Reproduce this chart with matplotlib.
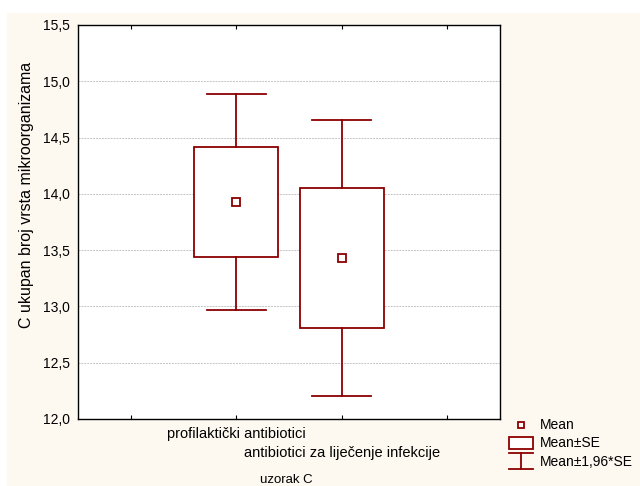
import matplotlib.pyplot as plt
from matplotlib.patches import Rectangle

# mean, standard error per group
groups = ['profilaktički antibiotici', 'antibiotici za liječenje infekcije']
means = [13.93, 13.43]
se = [0.49, 0.625]
positions = [1, 2]

y_ticks = [12.0, 12.5, 13.0, 13.5, 14.0, 14.5, 15.0, 15.5]

RED = '#8b0000'
CREAM = '#fdf9f0'

plt.rcParams['font.family'] = ['Liberation Sans', 'DejaVu Sans']
plt.rcParams['font.size'] = 10

W, H = 640, 486
fig = plt.figure(figsize=(W / 100, H / 100), dpi=100, facecolor='white')
fig.add_artist(Rectangle((7 / W, 0), 1 - 7 / W, 1 - 13 / H, transform=fig.transFigure,
                         facecolor=CREAM, edgecolor='none', zorder=-10))

ax = fig.add_axes([78 / W, 1 - 419 / H, 422 / W, 394 / H])
ax.set_facecolor('white')

box_w = 0.8
cap_w = 0.56
for x, m, s in zip(positions, means, se):
    lo, hi = m - s, m + s
    wlo, whi = m - 1.96 * s, m + 1.96 * s
    ax.add_patch(Rectangle((x - box_w / 2, lo), box_w, hi - lo, facecolor='white',
                           edgecolor=RED, lw=1.3, zorder=3))
    ax.plot([x, x], [hi, whi], color=RED, lw=1.3, zorder=3)
    ax.plot([x, x], [wlo, lo], color=RED, lw=1.3, zorder=3)
    ax.plot([x - cap_w / 2, x + cap_w / 2], [whi, whi], color=RED, lw=1.3, zorder=3)
    ax.plot([x - cap_w / 2, x + cap_w / 2], [wlo, wlo], color=RED, lw=1.3, zorder=3)
    ax.plot(x, m, marker='s', ms=5.5, mfc='white', mec=RED, mew=1.3, zorder=4)

ax.set_xlim(-0.5, 3.5)
ax.set_ylim(12.0, 15.5)
ax.set_xticks([0, 1, 2, 3])
ax.set_xticklabels([])
ax.set_yticks(y_ticks)
ax.set_yticklabels([f'{v:.1f}'.replace('.', ',') for v in y_ticks])
ax.tick_params(direction='in', length=3, width=0.8, top=True, colors='black')
ax.tick_params(axis='y', length=0, pad=6, labelsize=10)
ax.grid(axis='y', color='#c4c4c4', linestyle=(0, (2, 1)), lw=0.7, zorder=0)
for sp in ax.spines.values():
    sp.set_linewidth(1.0)
    sp.set_color('black')

# staggered category labels
ax.text(positions[0], -0.038, groups[0], transform=ax.get_xaxis_transform(),
        ha='center', va='center', fontsize=10.5)
ax.text(positions[1], -0.086, groups[1], transform=ax.get_xaxis_transform(),
        ha='center', va='center', fontsize=10.5)
fig.text(286 / W, 1 - 480 / H, 'uzorak C', ha='center', va='center', fontsize=9.5)
fig.text(27 / W, 1 - 195 / H, 'C ukupan broj vrsta mikroorganizama', rotation=90,
         ha='center', va='center', fontsize=11.5)

# legend drawn in figure pixel space
leg = fig.add_axes([0, 0, 1, 1], facecolor='none')
leg.set_xlim(0, W)
leg.set_ylim(H, 0)
leg.axis('off')
leg.plot(521, 425, marker='s', ms=5, mfc='white', mec=RED, mew=1.3)
leg.add_patch(Rectangle((509, 437), 24, 12, facecolor='white', edgecolor=RED, lw=1.3))
leg.plot([509, 533], [453, 453], color=RED, lw=1.3)
leg.plot([509, 533], [469, 469], color=RED, lw=1.3)
leg.plot([521, 521], [453, 469], color=RED, lw=1.3)
leg.text(540, 425, 'Mean', va='center', fontsize=10)
leg.text(540, 443, 'Mean±SE', va='center', fontsize=10)
leg.text(540, 462, 'Mean±1,96*SE', va='center', fontsize=10)

fig.savefig('out.png', dpi=100, facecolor=fig.get_facecolor())
